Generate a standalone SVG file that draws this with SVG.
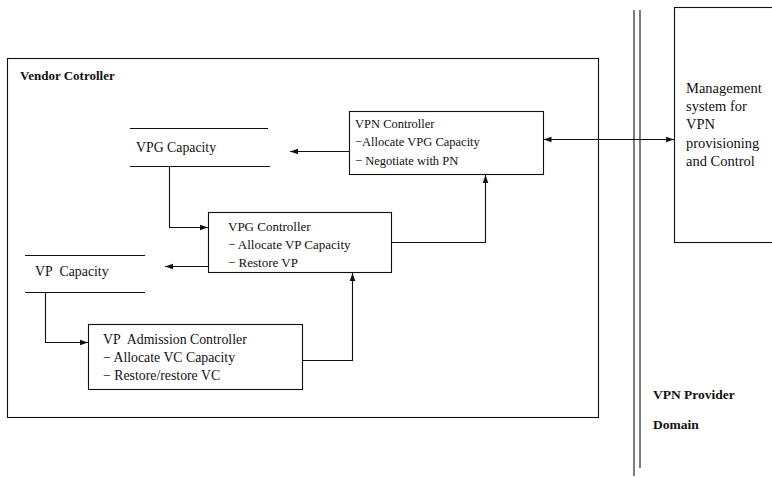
<svg xmlns="http://www.w3.org/2000/svg" width="772" height="477" viewBox="0 0 772 477">
<defs>
<marker id="ah" viewBox="0 0 10 10" refX="10" refY="5" markerWidth="10" markerHeight="8" markerUnits="userSpaceOnUse" orient="auto-start-reverse">
<path d="M0,1.5 L10,5 L0,8.5 z" fill="#111"/>
</marker>
<style>
text{font-family:"Liberation Serif","Times New Roman",serif;font-size:13px;fill:#111}
.b{font-weight:bold;font-size:13px}
.bp{font-weight:bold;font-size:13.5px}
.m{font-size:14.5px}
.s{font-size:12.5px}
.l{font-size:13.8px}
.box{fill:none;stroke:#111;stroke-width:1.1}
.ln{fill:none;stroke:#111;stroke-width:1.1}
.c{fill:none;stroke:#111;stroke-width:1.1}
</style>
</defs>
<rect width="772" height="477" fill="#fff"/>

<g id="vendor-controller">
<rect class="box" x="7.5" y="58.5" width="591" height="359"/>
<text class="b" x="20" y="80">Vendor Cotroller</text>
</g>

<g id="domain-boundary">
<line class="ln" x1="634" y1="10" x2="634" y2="476"/>
<line class="ln" x1="640" y1="10" x2="640" y2="468"/>
<text class="bp" x="653" y="399">VPN Provider</text>
<text class="bp" x="653" y="429">Domain</text>
</g>

<g id="management-system">
<rect class="box" x="674.5" y="7.5" width="110" height="235"/>
<text class="m" x="686" y="93">Management</text>
<text class="m" x="686" y="111">system for</text>
<text class="m" x="686" y="129">VPN</text>
<text class="m" x="686" y="148">provisioning</text>
<text class="m" x="686" y="166">and Control</text>
</g>

<g id="vpn-controller">
<rect class="box" x="349.5" y="111.5" width="194" height="63"/>
<text class="s" x="355" y="128">VPN Controller</text>
<text class="s" x="355" y="146">−Allocate VPG Capacity</text>
<text class="s" x="355" y="165">−  Negotiate with PN</text>
</g>

<g id="vpg-capacity">
<line class="ln" x1="130" y1="128.5" x2="268" y2="128.5"/>
<line class="ln" x1="130" y1="166.5" x2="270" y2="166.5"/>
<text class="l" x="136" y="152">VPG Capacity</text>
</g>

<g id="vpg-controller">
<rect class="box" x="208.5" y="212.5" width="183" height="60"/>
<text x="228" y="231">VPG Controller</text>
<text x="228" y="249">− Allocate VP Capacity</text>
<text x="228" y="267">− Restore VP</text>
</g>

<g id="vp-capacity">
<line class="ln" x1="25" y1="255.5" x2="145" y2="255.5"/>
<line class="ln" x1="25" y1="292.5" x2="145" y2="292.5"/>
<text class="l" x="35" y="276">VP&#160; Capacity</text>
</g>

<g id="vp-admission-controller">
<rect class="box" x="88.5" y="324.5" width="214" height="65"/>
<text class="l" x="103" y="344">VP&#160; Admission Controller</text>
<text class="l" x="103" y="362">− Allocate VC Capacity</text>
<text class="l" x="103" y="380">− Restore/restore VC</text>
</g>

<g id="connectors">
<line class="c" x1="543.5" y1="139.5" x2="674" y2="139.5" marker-start="url(#ah)" marker-end="url(#ah)"/>
<line class="c" x1="349" y1="151.5" x2="290" y2="151.5" marker-end="url(#ah)"/>
<polyline class="c" points="169.5,167 169.5,227.5 208,227.5" marker-end="url(#ah)"/>
<line class="c" x1="208" y1="266.5" x2="165" y2="266.5" marker-end="url(#ah)"/>
<polyline class="c" points="391,242.5 485.5,242.5 485.5,175" marker-end="url(#ah)"/>
<polyline class="c" points="45.5,293 45.5,342.5 88,342.5" marker-end="url(#ah)"/>
<polyline class="c" points="302,360.5 352.5,360.5 352.5,273" marker-end="url(#ah)"/>
</g>
</svg>
